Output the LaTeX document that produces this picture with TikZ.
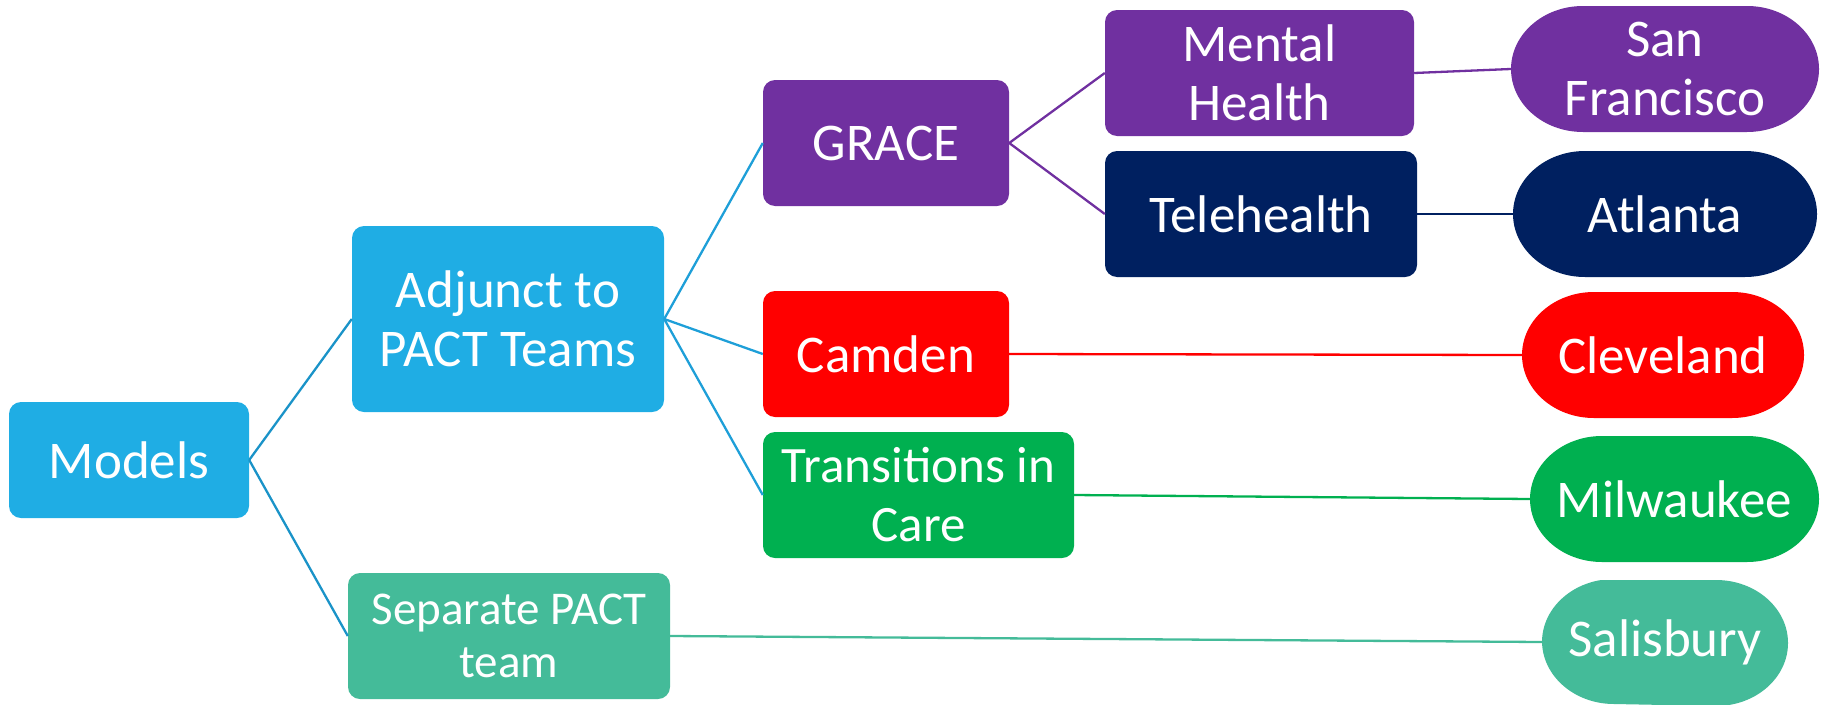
\documentclass[tikz,border=0pt]{standalone}
\usepackage{fontspec}
\setmainfont{Carlito}
\usetikzlibrary{calc}
\definecolor{cblue}{HTML}{1FADE4}
\definecolor{cblueline}{HTML}{1A93C8}
\definecolor{cblueline2}{HTML}{1E9FD8}
\definecolor{cpurple}{HTML}{7030A0}
\definecolor{cnavy}{HTML}{002060}
\definecolor{cred}{HTML}{FF0000}
\definecolor{cgreen}{HTML}{00B050}
\definecolor{cteal}{HTML}{44BB99}
\tikzset{
  box/.style={rectangle, rounded corners=12pt, inner sep=0pt, align=center,
    text=white, font=\fontsize{53}{59}\selectfont, fill=#1},
  stadium/.style={rectangle, inner sep=0pt, align=center, text=white,
    font=\fontsize{53}{59}\selectfont,
    path picture={
      \fill[#1] (path picture bounding box.west)
        arc[start angle=180, end angle=90, x radius=72pt, y radius=63pt]
        -- ($(path picture bounding box.north east)+(-72pt,0)$)
        arc[start angle=90, end angle=-90, x radius=72pt, y radius=63pt]
        -- ($(path picture bounding box.south west)+(72pt,0)$)
        arc[start angle=270, end angle=180, x radius=72pt, y radius=63pt]
        -- cycle;
    }},
  conn/.style={line width=2.3pt, draw=#1},
}
\begin{document}
\begin{tikzpicture}[x=1pt, y=-1pt]
\useasboundingbox (0,0) rectangle (1827,704);
% level 0
\node[box=cblue, minimum width=240pt, minimum height=116pt] (models) at (129,460) {Models};
% level 1
\node[box=cblue, minimum width=312pt, minimum height=186pt] (adjunct) at (508,319) {Adjunct to\\PACT Teams};
\node[box=cteal, minimum width=322pt, minimum height=126pt, font=\fontsize{47}{53}\selectfont] (separate) at (509,636) {Separate PACT\\team};
% level 2
\node[box=cpurple, minimum width=246pt, minimum height=126pt] (grace) at (886,143) {GRACE};
\node[box=cred, minimum width=246pt, minimum height=126pt] (camden) at (886,354) {Camden};
\node[box=cgreen, minimum width=311pt, minimum height=126pt, font=\fontsize{51}{59}\selectfont] (trans) at (918.5,495) {Transitions in\\Care};
% level 3
\node[box=cpurple, minimum width=309pt, minimum height=126pt] (mental) at (1259.5,73) {Mental\\Health};
\node[box=cnavy, minimum width=312pt, minimum height=126pt] (tele) at (1261,214) {Telehealth};
% cities
\node[stadium=cpurple, minimum width=308pt, minimum height=126pt] (sf) at (1665,69) {San\\Francisco};
\node[stadium=cnavy, minimum width=304pt, minimum height=126pt] (atl) at (1665,214) {Atlanta};
\node[stadium=cred, minimum width=282pt, minimum height=126pt] (clev) at (1663,355) {Cleveland};
\node[stadium=cgreen, minimum width=289pt, minimum height=126pt] (milw) at (1674.5,499) {Milwaukee};
\node[stadium=cteal, minimum width=246pt, minimum height=124pt] (sal) at (1665,642) {Salisbury};
% connectors
\draw[conn=cblueline] (models.east) -- (adjunct.west);
\draw[conn=cblueline] (models.east) -- (separate.west);
\draw[conn=cblueline2] (adjunct.east) -- (grace.west);
\draw[conn=cblueline2] (adjunct.east) -- (camden.west);
\draw[conn=cblueline2] (adjunct.east) -- (trans.west);
\draw[conn=cpurple] (grace.east) -- (mental.west);
\draw[conn=cpurple] (grace.east) -- (tele.west);
\draw[conn=cpurple] (mental.east) -- (sf.west);
\draw[conn=cnavy] (tele.east) -- (atl.west);
\draw[conn=cred] (camden.east) -- (clev.west);
\draw[conn=cgreen] (trans.east) -- (milw.west);
\draw[conn=cteal] (separate.east) -- (sal.west);
\end{tikzpicture}
\end{document}
